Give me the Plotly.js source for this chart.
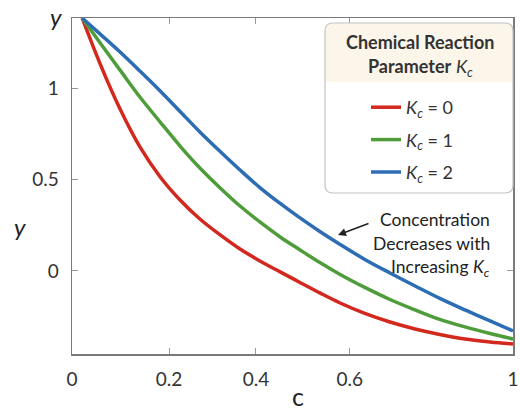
<!DOCTYPE html>
<html>
<head>
<meta charset="utf-8">
<script src="https://cdn.plot.ly/plotly-3.0.1.min.js"></script>
<style>html,body{margin:0;padding:0;background:#fff;}#chart{width:520px;height:413px;}</style>
</head>
<body>
<div id="chart"></div>
<script>
// Concentration profiles (shared c grid)
var c = [0.023, 0.064, 0.109, 0.154, 0.200, 0.245, 0.290, 0.336, 0.381, 0.426, 0.472, 0.517, 0.562, 0.608, 0.664, 0.721, 0.778, 0.834, 0.891, 0.948, 1.000];
var y_k0 = [1.383, 1.131, 0.885, 0.678, 0.514, 0.388, 0.284, 0.197, 0.120, 0.055, -0.005, -0.063, -0.120, -0.175, -0.232, -0.279, -0.317, -0.347, -0.372, -0.388, -0.399];
var y_k1 = [1.383, 1.246, 1.098, 0.951, 0.814, 0.683, 0.563, 0.454, 0.355, 0.268, 0.186, 0.115, 0.046, -0.019, -0.090, -0.156, -0.213, -0.265, -0.306, -0.342, -0.372];
var y_k2 = [1.383, 1.295, 1.197, 1.093, 0.984, 0.872, 0.760, 0.653, 0.552, 0.456, 0.369, 0.290, 0.216, 0.145, 0.063, -0.011, -0.082, -0.150, -0.213, -0.273, -0.328];

var seriesNames = ['<i>K</i><sub><i>c</i></sub> = 0', '<i>K</i><sub><i>c</i></sub> = 1', '<i>K</i><sub><i>c</i></sub> = 2'];
var xTickVals = [0, 0.22, 0.417, 0.63, 1];
var xTickText = ['0', '0.2', '0.4', '0.6', '1'];
var yTickVals = [0, 0.5, 1];
var yTickText = ['0', '0.5', '1'];

var colors = ['#d2281e', '#4f9d3a', '#2d6db4'];
var FONT = 'Lato, "Noto Sans", sans-serif';

function mk(x, y, i) {
  return {x: x, y: y, name: seriesNames[i], type: 'scatter', mode: 'lines',
    line: {color: colors[i], width: 3.5, shape: 'spline', smoothing: 1},
    legendgroup: 'g' + i};
}
var data = [mk(c, y_k0, 0), mk(c, y_k1, 1), mk(c, y_k2, 2)];

// pixel -> paper helpers (plot area: x 72..513, y 18..354)
function px(p) { return (p - 72) / 441; }
function py(p) { return (354 - p) / 336; }

var L = px(325), R = px(513), T = py(23), B = py(193), H = py(82);
var rx = 8 / 441, ry = 8 / 336;
var boxPath = 'M' + (L + rx) + ',' + T + ' L' + (R - rx) + ',' + T + ' Q' + R + ',' + T + ' ' + R + ',' + (T - ry) +
  ' L' + R + ',' + (B + ry) + ' Q' + R + ',' + B + ' ' + (R - rx) + ',' + B +
  ' L' + (L + rx) + ',' + B + ' Q' + L + ',' + B + ' ' + L + ',' + (B + ry) +
  ' L' + L + ',' + (T - ry) + ' Q' + L + ',' + T + ' ' + (L + rx) + ',' + T + ' Z';
var headPath = 'M' + (L + rx) + ',' + T + ' L' + (R - rx) + ',' + T + ' Q' + R + ',' + T + ' ' + R + ',' + (T - ry) +
  ' L' + R + ',' + H + ' L' + L + ',' + H + ' L' + L + ',' + (T - ry) + ' Q' + L + ',' + T + ' ' + (L + rx) + ',' + T + ' Z';

var layout = {
  width: 520, height: 413,
  margin: {l: 72, r: 7, t: 18, b: 59},
  paper_bgcolor: '#ffffff', plot_bgcolor: '#ffffff',
  font: {family: FONT, color: '#333'},
  xaxis: {
    range: [0, 1], tickvals: xTickVals, ticktext: xTickText,
    showgrid: false, zeroline: false, showline: true, mirror: 'ticks',
    linecolor: '#7a7a7a', linewidth: 1.5, ticks: 'inside', ticklen: 6, tickcolor: '#999', tickwidth: 1,
    tickfont: {size: 19, color: '#333', family: FONT}, ticklabelstandoff: 8
  },
  yaxis: {
    range: [-0.454, 1.383], tickvals: yTickVals, ticktext: yTickText,
    showgrid: false, zeroline: false, showline: true, mirror: 'ticks',
    linecolor: '#7a7a7a', linewidth: 1.5, ticks: 'inside', ticklen: 6, tickcolor: '#999', tickwidth: 1,
    tickfont: {size: 19, color: '#333', family: FONT}, ticklabelstandoff: 8
  },
  showlegend: true,
  legend: {
    x: px(366), y: py(89), xanchor: 'left', yanchor: 'top',
    bgcolor: 'rgba(0,0,0,0)', borderwidth: 0,
    font: {size: 18, color: '#333', family: FONT},
    traceorder: 'grouped', tracegroupgap: 6, itemwidth: 30
  },
  shapes: [
    {type: 'path', xref: 'paper', yref: 'paper', path: boxPath, fillcolor: '#ffffff', line: {width: 0}, layer: 'above'},
    {type: 'path', xref: 'paper', yref: 'paper', path: headPath, fillcolor: '#fcf6ea', line: {width: 0}, layer: 'above'},
    {type: 'path', xref: 'paper', yref: 'paper', path: boxPath, fillcolor: 'rgba(0,0,0,0)', line: {color: '#c4c4c4', width: 1.2}, layer: 'above'}
  ],
  annotations: [
    {xref: 'paper', yref: 'paper', x: px(420), y: py(42), text: '<b>Chemical Reaction</b>', showarrow: false,
      font: {size: 18, color: '#333', family: FONT}, xanchor: 'center', yanchor: 'middle'},
    {xref: 'paper', yref: 'paper', x: px(420), y: py(67), text: '<b>Parameter</b> <i>K</i><sub><i>c</i></sub>', showarrow: false,
      font: {size: 18, color: '#333', family: FONT}, xanchor: 'center', yanchor: 'middle'},
    {xref: 'paper', yref: 'paper', x: px(492), y: py(219), text: 'Concentration', showarrow: false,
      font: {size: 17.5, color: '#222', family: FONT}, xanchor: 'right', yanchor: 'middle'},
    {xref: 'paper', yref: 'paper', x: px(492), y: py(243), text: 'Decreases with', showarrow: false,
      font: {size: 17.5, color: '#222', family: FONT}, xanchor: 'right', yanchor: 'middle'},
    {xref: 'paper', yref: 'paper', x: px(492), y: py(268), text: 'Increasing <i>K</i><sub><i>c</i></sub>', showarrow: false,
      font: {size: 17.5, color: '#222', family: FONT}, xanchor: 'right', yanchor: 'middle'},
    {xref: 'paper', yref: 'paper', x: px(338), y: py(235), text: '', showarrow: true,
      ax: 32, ay: -12, arrowhead: 2, arrowsize: 1, arrowwidth: 1.6, arrowcolor: '#222', standoff: 0},
    {xref: 'paper', yref: 'paper', x: px(298), y: py(396), text: 'c', showarrow: false,
      font: {size: 25, color: '#222', family: FONT}, xanchor: 'center', yanchor: 'middle'},
    {xref: 'paper', yref: 'paper', x: px(20), y: py(226), text: '<i>y</i>', showarrow: false,
      font: {size: 24, color: '#222', family: FONT}, xanchor: 'center', yanchor: 'middle'},
    {xref: 'paper', yref: 'paper', x: px(56), y: py(16), text: '<i>y</i>', showarrow: false,
      font: {size: 24, color: '#222', family: FONT}, xanchor: 'center', yanchor: 'middle'}
  ]
};

Plotly.newPlot('chart', data, layout, {displayModeBar: false, staticPlot: true});
</script>
</body>
</html>
